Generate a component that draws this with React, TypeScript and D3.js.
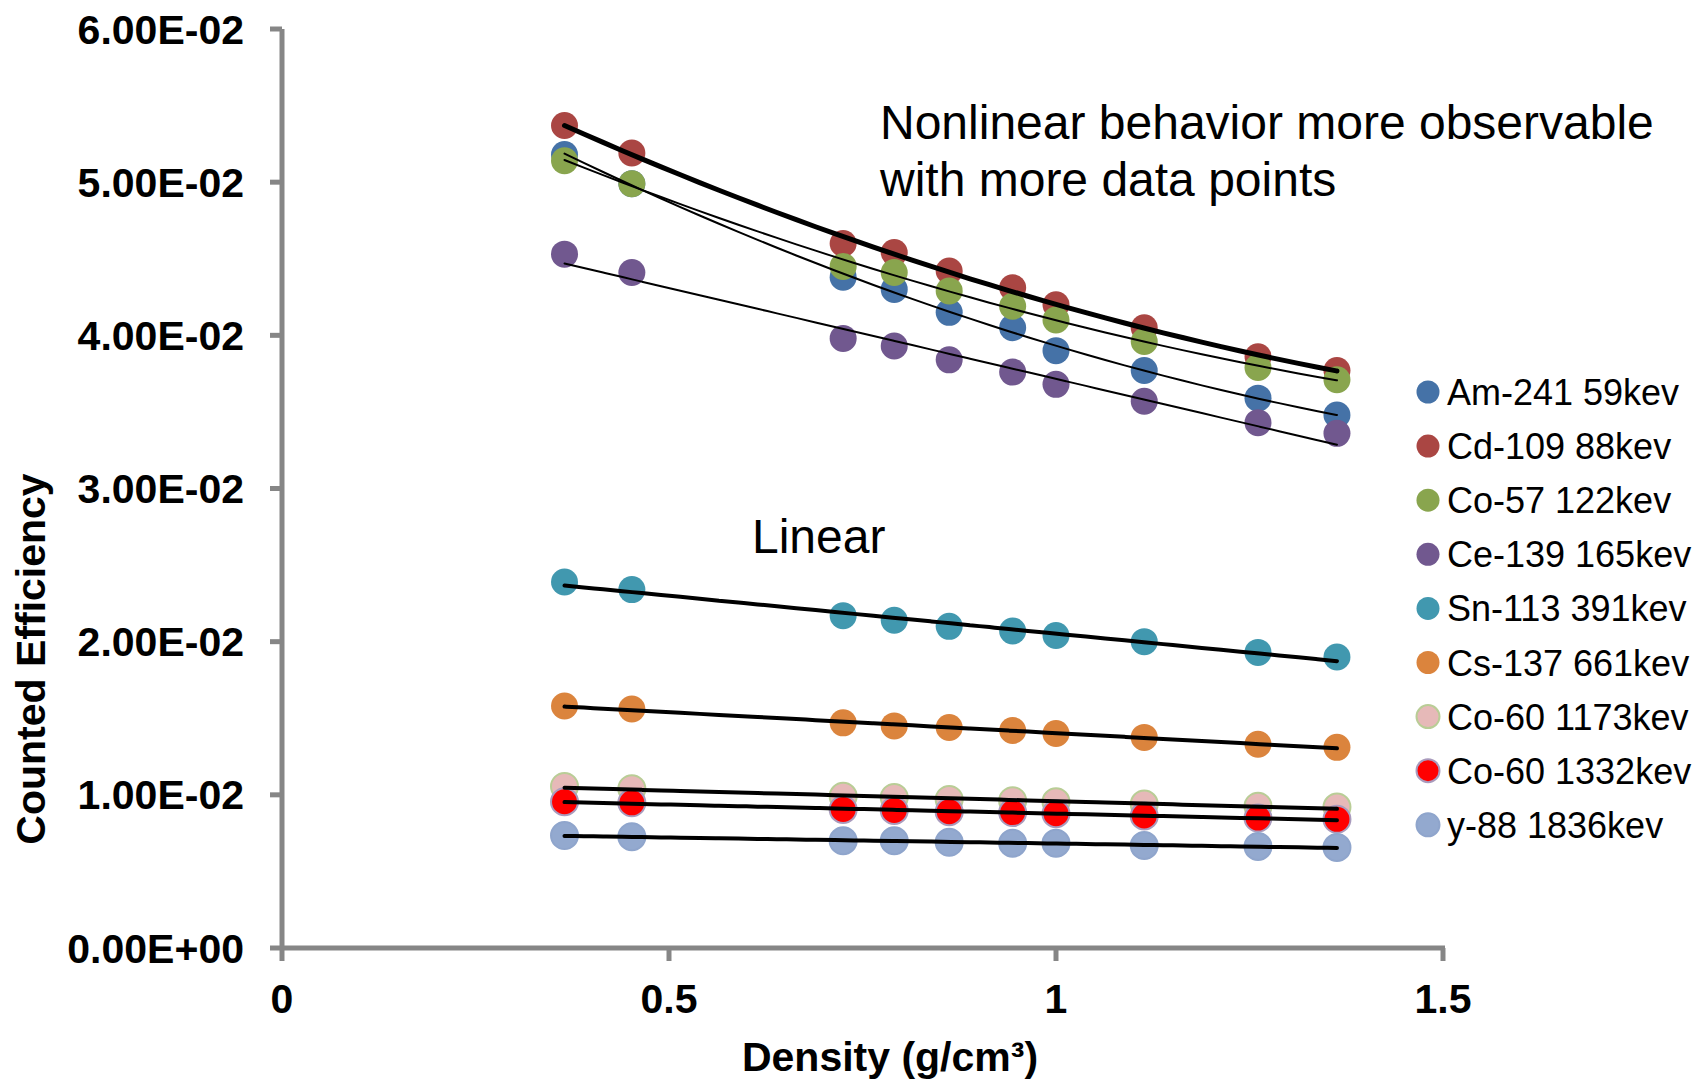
import { useMemo } from "react";
import * as d3 from "d3";

// density (g/cm3) of each sample
const density = [0.365, 0.452, 0.725, 0.791, 0.862, 0.944, 1.0, 1.114, 1.261, 1.363];

// counted efficiency (units of 1e-2)
const am241 = [5.18, 4.99, 4.38, 4.30, 4.15, 4.05, 3.90, 3.77, 3.59, 3.48];
const cd109 = [5.37, 5.19, 4.60, 4.54, 4.42, 4.31, 4.20, 4.05, 3.86, 3.77];
const co57 = [5.14, 4.99, 4.45, 4.41, 4.29, 4.19, 4.10, 3.96, 3.79, 3.71];
const ce139 = [4.53, 4.41, 3.98, 3.93, 3.84, 3.76, 3.68, 3.57, 3.43, 3.36];
const sn113 = [2.39, 2.34, 2.17, 2.14, 2.10, 2.07, 2.04, 2.0, 1.93, 1.9];
const cs137 = [1.58, 1.56, 1.47, 1.45, 1.44, 1.42, 1.40, 1.375, 1.33, 1.31];
const co60a = [1.055, 1.04, 0.99, 0.983, 0.97, 0.962, 0.955, 0.94, 0.926, 0.92];
const co60b = [0.955, 0.948, 0.905, 0.898, 0.89, 0.884, 0.877, 0.862, 0.848, 0.84];
const y88 = [0.734, 0.727, 0.70, 0.70, 0.69, 0.684, 0.684, 0.67, 0.663, 0.656];

const seriesNames = [
  "Am-241 59kev",
  "Cd-109 88kev",
  "Co-57 122kev",
  "Ce-139 165kev",
  "Sn-113 391kev",
  "Cs-137 661kev",
  "Co-60 1173kev",
  "Co-60 1332kev",
  "y-88 1836kev",
];
const seriesValues = [am241, cd109, co57, ce139, sn113, cs137, co60a, co60b, y88];
const fills = ["#4572A7", "#AA4643", "#89A54E", "#71588F", "#4198AF", "#DB843D", "#E6B9B8", "#FF0000", "#93A9CF"];
const strokes = ["none", "none", "none", "none", "none", "none", "#B9CD96", "#A99BBD", "#8FA5CC"];
// trend order (polynomial degree) and width per series
const fitOrder = [2, 2, 2, 1, 1, 1, 1, 1, 1];
const fitWidth = [2, 5, 2, 2, 4, 4, 4, 4, 4];

const yTicks = [0, 0.01, 0.02, 0.03, 0.04, 0.05, 0.06];
const xTicks = [0, 0.5, 1, 1.5];

const FONT = "'Liberation Sans', Arial, sans-serif";
const AXIS = "#868686";

function fmtExp(v: number) {
  const [m, e] = v.toExponential(2).split("e");
  const sign = e[0] === "-" ? "-" : "+";
  const digits = e.replace(/[+-]/, "").padStart(2, "0");
  return `${m}E${sign}${digits}`;
}

// least squares polynomial fit
function polyFit(xs: number[], ys: number[], order: number) {
  const n = order + 1;
  const A: number[][] = [];
  for (let r = 0; r < n; r++) {
    A.push([]);
    for (let c = 0; c < n; c++) A[r].push(d3.sum(xs, (x) => Math.pow(x, r + c)));
    A[r].push(d3.sum(xs, (x, i) => Math.pow(x, r) * ys[i]));
  }
  for (let p = 0; p < n; p++) {
    for (let r = p + 1; r < n; r++) {
      const f = A[r][p] / A[p][p];
      for (let c = p; c <= n; c++) A[r][c] -= f * A[p][c];
    }
  }
  const coef = new Array(n).fill(0);
  for (let r = n - 1; r >= 0; r--) {
    let s = A[r][n];
    for (let c = r + 1; c < n; c++) s -= A[r][c] * coef[c];
    coef[r] = s / A[r][r];
  }
  return (x: number) => coef.reduce((acc, k, i) => acc + k * Math.pow(x, i), 0);
}

export default function App() {
  const W = 1708;
  const H = 1081;
  const x = d3.scaleLinear().domain([0, 1.5]).range([282, 1443]);
  const y = d3.scaleLinear().domain([0, 0.06]).range([948, 29]);

  const trends = useMemo(() => {
    return seriesValues.map((vals, i) => {
      const ys = vals.map((v) => v / 100);
      const f = polyFit(density, ys, fitOrder[i]);
      const [lo, hi] = d3.extent(density) as [number, number];
      const pts = d3.range(0, 41).map((k) => {
        const xv = lo + ((hi - lo) * k) / 40;
        return [xv, f(xv)] as [number, number];
      });
      return d3
        .line<[number, number]>()
        .x((d) => x(d[0]))
        .y((d) => y(d[1]))
        .curve(d3.curveMonotoneX)(pts);
    });
  }, []);

  return (
    <svg width={W} height={H} style={{ position: "absolute", left: 0, top: 0, background: "#fff" }} fontFamily={FONT}>
      {/* axes */}
      <g stroke={AXIS} strokeWidth={5} fill="none">
        <line x1={x(0)} x2={x(0)} y1={y(0.06)} y2={y(0) + 2} />
        <line x1={x(0) - 2} x2={x(1.5) + 2} y1={y(0)} y2={y(0)} />
        {yTicks.map((t) => (
          <line key={"yt" + t} x1={x(0) - 12} x2={x(0)} y1={y(t)} y2={y(t)} />
        ))}
        {xTicks.map((t) => (
          <line key={"xt" + t} x1={x(t)} x2={x(t)} y1={y(0)} y2={y(0) + 13} />
        ))}
      </g>
      {yTicks.map((t) => (
        <text key={"yl" + t} x={244} y={y(t) + 14.5} textAnchor="end" fontSize={41} fontWeight="bold">
          {fmtExp(t)}
        </text>
      ))}
      {xTicks.map((t) => (
        <text key={"xl" + t} x={x(t)} y={1013} textAnchor="middle" fontSize={41} fontWeight="bold">
          {String(t)}
        </text>
      ))}
      <text x={890} y={1071} textAnchor="middle" fontSize={41} fontWeight="bold">
        Density (g/cm³)
      </text>
      <text transform="translate(45,659) rotate(-90)" textAnchor="middle" fontSize={41} fontWeight="bold">
        Counted Efficiency
      </text>

      {/* markers */}
      {seriesValues.map((vals, i) => (
        <g key={"s" + i}>
          {vals.map((v, j) => (
            <circle
              key={j}
              cx={x(density[j])}
              cy={y(v / 100)}
              r={13.5}
              fill={fills[i]}
              stroke={strokes[i]}
              strokeWidth={strokes[i] === "none" ? 0 : 2}
            />
          ))}
        </g>
      ))}

      {/* trend lines */}
      {trends.map((d, i) => (
        <path key={"t" + i} d={d || ""} fill="none" stroke="#000" strokeWidth={fitWidth[i]} strokeLinecap="round" />
      ))}

      {/* annotations */}
      <text x={880} y={139} fontSize={48}>
        Nonlinear behavior more observable
      </text>
      <text x={880} y={196} fontSize={48}>
        with more data points
      </text>
      <text x={752} y={553} fontSize={48}>
        Linear
      </text>

      {/* legend */}
      {seriesNames.map((name, i) => (
        <g key={"l" + i} transform={`translate(1428,${392 + i * 54.1})`}>
          <circle r={11.5} fill={fills[i]} stroke={strokes[i]} strokeWidth={strokes[i] === "none" ? 0 : 2} />
          <text x={19} y={13} fontSize={36}>
            {name}
          </text>
        </g>
      ))}
    </svg>
  );
}
